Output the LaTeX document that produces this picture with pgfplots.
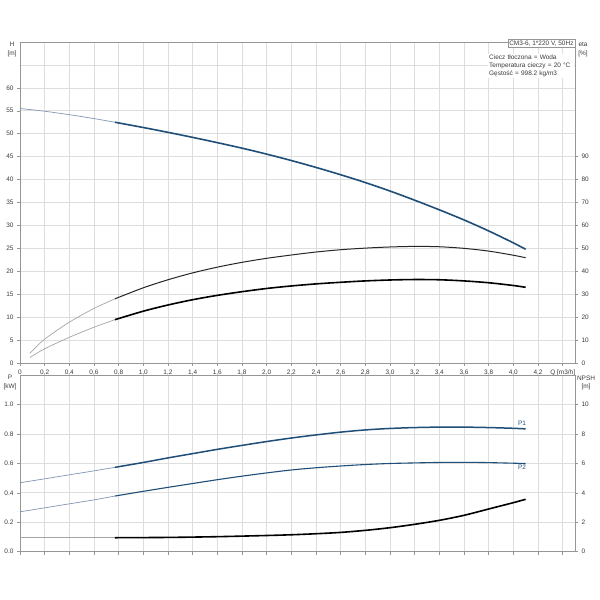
\documentclass[border=0pt]{standalone}
\usepackage{fontspec}
\setmainfont{Liberation Sans}
\usepackage{pgfplots}
\pgfplotsset{compat=1.18}
\definecolor{gridc}{RGB}{222,222,222}
\definecolor{axc}{RGB}{150,150,150}
\definecolor{txt}{RGB}{60,60,60}
\definecolor{bl}{RGB}{31,78,121}
\definecolor{lbl}{RGB}{130,150,178}
\definecolor{lgr}{RGB}{165,165,165}
\newcommand{\sz}{\fontsize{6.5}{7.5}\selectfont}
\pgfplotsset{base/.style={
  scale only axis, width=555bp, xmin=0, xmax=4.5,
  font=\sz, tick label style={text=txt, font=\sz},
  xticklabel style={text height=4.8bp, text depth=1.4bp},
  /pgf/number format/assume math mode=true,
  axis line style={axc, line width=0.9pt},
  tick style={axc, line width=0.5pt},
  major tick length=3bp, minor tick length=0pt, tick align=outside,
  grid style={gridc, line width=0.6pt}, minor grid style={gridc, line width=0.6pt},
  every axis plot/.append style={smooth, tension=0.5},
  clip=false}}
\begin{document}
\begin{tikzpicture}
\fill[white] (0,0) rectangle (600bp,600bp);
\useasboundingbox (0,0) rectangle (600bp,600bp);
% ---------- top panel: H ----------
\begin{axis}[base, at={(20bp,237bp)}, anchor=south west, height=321bp,
  ymin=0, ymax=70, ytick={0,5,...,60}, minor ytick={65},
  grid=both, xtick pos=bottom, ytick pos=left,
  xtick={0,0.2,0.4,0.6,0.8,1.0,1.2,1.4,1.6,1.8,2.0,2.2,2.4,2.6,2.8,3.0,3.2,3.4,3.6,3.8,4.0,4.2,4.4},
  xticklabels={0,{0,2},{0,4},{0,6},{0,8},{1,0},{1,2},{1,4},{1,6},{1,8},{2,0},{2,2},{2,4},{2,6},{2,8},{3,0},{3,2},{3,4},{3,6},{3,8},{4,0},{4,2},{Q [m3/h]}}]
\addplot[lbl, line width=0.7bp] coordinates {(0,55.5) (0.2,54.9) (0.4,54.15) (0.6,53.3) (0.77,52.5)};
\addplot[bl, line width=1.6bp] coordinates {(0.77,52.5) (1.0,51.35) (1.2,50.3) (1.4,49.2) (1.6,48.05) (1.8,46.85) (2.0,45.55) (2.2,44.15) (2.4,42.65) (2.6,41.05) (2.8,39.35) (3.0,37.5) (3.2,35.5) (3.4,33.4) (3.6,31.2) (3.8,28.8) (4.0,26.2) (4.1,24.8)};
\end{axis}
% ---------- top panel: eta ----------
\begin{axis}[base, at={(20bp,237bp)}, anchor=south west, height=321bp,
  ymin=0, ymax=140, axis y line*=right, axis x line=none,
  ytick={0,10,...,90}]
\addplot[lgr, line width=0.7bp] coordinates {(0.08,4.2) (0.2,10.4) (0.4,17.8) (0.6,23.8) (0.77,28.0)};
\addplot[black!85, line width=1bp] coordinates {(0.77,28.0) (1.0,32.8) (1.2,36.3) (1.4,39.3) (1.6,41.8) (1.8,43.9) (2.0,45.65) (2.2,47.1) (2.4,48.4) (2.6,49.4) (2.8,50.1) (3.0,50.6) (3.2,50.85) (3.4,50.7) (3.6,50.0) (3.8,48.8) (4.0,47.0) (4.1,45.9)};
\addplot[lgr, line width=0.7bp] coordinates {(0.08,2.4) (0.2,6.2) (0.4,11.2) (0.6,15.6) (0.77,18.9)};
\addplot[black, line width=1.6bp] coordinates {(0.77,18.9) (1.0,22.6) (1.2,25.3) (1.4,27.6) (1.6,29.5) (1.8,31.1) (2.0,32.5) (2.2,33.6) (2.4,34.5) (2.6,35.2) (2.8,35.8) (3.0,36.2) (3.2,36.4) (3.4,36.3) (3.6,35.8) (3.8,35.0) (4.0,33.8) (4.1,33.0)};
\end{axis}
% ---------- bottom panel: P ----------
\begin{axis}[base, at={(20bp,48.3bp)}, anchor=south west, height=176.7bp,
  ymin=0, ymax=1.2, ytick={0,0.2,0.4,0.6,0.8,1.0},
  yticklabels={0.0,0.2,0.4,0.6,0.8,1.0},
  grid=major, xtick pos=bottom, ytick pos=left,
  xtick={0,0.2,0.4,0.6,0.8,1.0,1.2,1.4,1.6,1.8,2.0,2.2,2.4,2.6,2.8,3.0,3.2,3.4,3.6,3.8,4.0,4.2,4.4},
  xticklabels={}]
\addplot[lbl, line width=0.7bp] coordinates {(0,0.468) (0.2,0.495) (0.4,0.522) (0.6,0.549) (0.77,0.573)};
\addplot[bl, line width=1.5bp] coordinates {(0.77,0.573) (1.0,0.606) (1.2,0.637) (1.4,0.666) (1.6,0.695) (1.8,0.722) (2.0,0.748) (2.2,0.772) (2.4,0.793) (2.6,0.812) (2.8,0.827) (3.0,0.837) (3.2,0.843) (3.4,0.846) (3.6,0.846) (3.8,0.843) (4.0,0.838) (4.1,0.834)};
\addplot[lbl, line width=0.7bp] coordinates {(0,0.271) (0.2,0.298) (0.4,0.325) (0.6,0.352) (0.77,0.378)};
\addplot[bl, line width=1.1bp] coordinates {(0.77,0.378) (1.0,0.41) (1.2,0.437) (1.4,0.463) (1.6,0.489) (1.8,0.513) (2.0,0.535) (2.2,0.555) (2.4,0.570) (2.6,0.582) (2.8,0.592) (3.0,0.599) (3.2,0.603) (3.4,0.606) (3.6,0.607) (3.8,0.605) (4.0,0.601) (4.1,0.599)};
\node[bl, font=\sz] at (axis cs:4.07,0.872) {P1};
\node[bl, font=\sz] at (axis cs:4.07,0.572) {P2};
\end{axis}
% ---------- bottom panel: NPSH ----------
\begin{axis}[base, at={(20bp,48.3bp)}, anchor=south west, height=176.7bp,
  ymin=0, ymax=12, axis y line*=right, axis x line=none,
  ytick={0,2,...,10}]
\addplot[lgr, line width=0.8bp] coordinates {(0,0.95) (0.4,0.95) (0.77,0.95)};
\addplot[black, line width=1.6bp] coordinates {(0.77,0.95) (1.2,0.97) (1.6,1.02) (2.0,1.1) (2.2,1.15) (2.4,1.22) (2.6,1.31) (2.8,1.45) (3.0,1.63) (3.2,1.86) (3.4,2.13) (3.6,2.47) (3.8,2.9) (4.0,3.33) (4.1,3.56)};
\end{axis}
% ---------- labels ----------
\node[text=txt, font=\fontsize{6.5}{8.5}\selectfont, align=center] at (12bp,550.5bp) {H\\{[m]}};
\node[text=txt, font=\fontsize{6.5}{8.5}\selectfont, align=center] at (583bp,550.5bp) {eta\\{[\%]}};
\node[text=txt, font=\fontsize{6.5}{8.5}\selectfont, align=center] at (10bp,217.5bp) {P\\{[kW]}};
\node[text=txt, font=\fontsize{6.5}{8.5}\selectfont, align=center] at (586bp,217bp) {NPSH\\{[m]}};
\node[draw=axc, fill=white, text=txt, anchor=north east, inner sep=1.3bp, font=\sz] at (575bp,560.5bp) {CM3-6, 1*220 V, 50Hz};
\node[fill=white, text=txt, anchor=north west, align=left, inner sep=1bp, text width=84bp, font=\fontsize{6.5}{7.8}\selectfont] at (488bp,546bp) {Ciecz tłoczona = Woda\\Temperatura cieczy = 20 °C\\Gęstość = 998.2 kg/m3};
\end{tikzpicture}
\end{document}
